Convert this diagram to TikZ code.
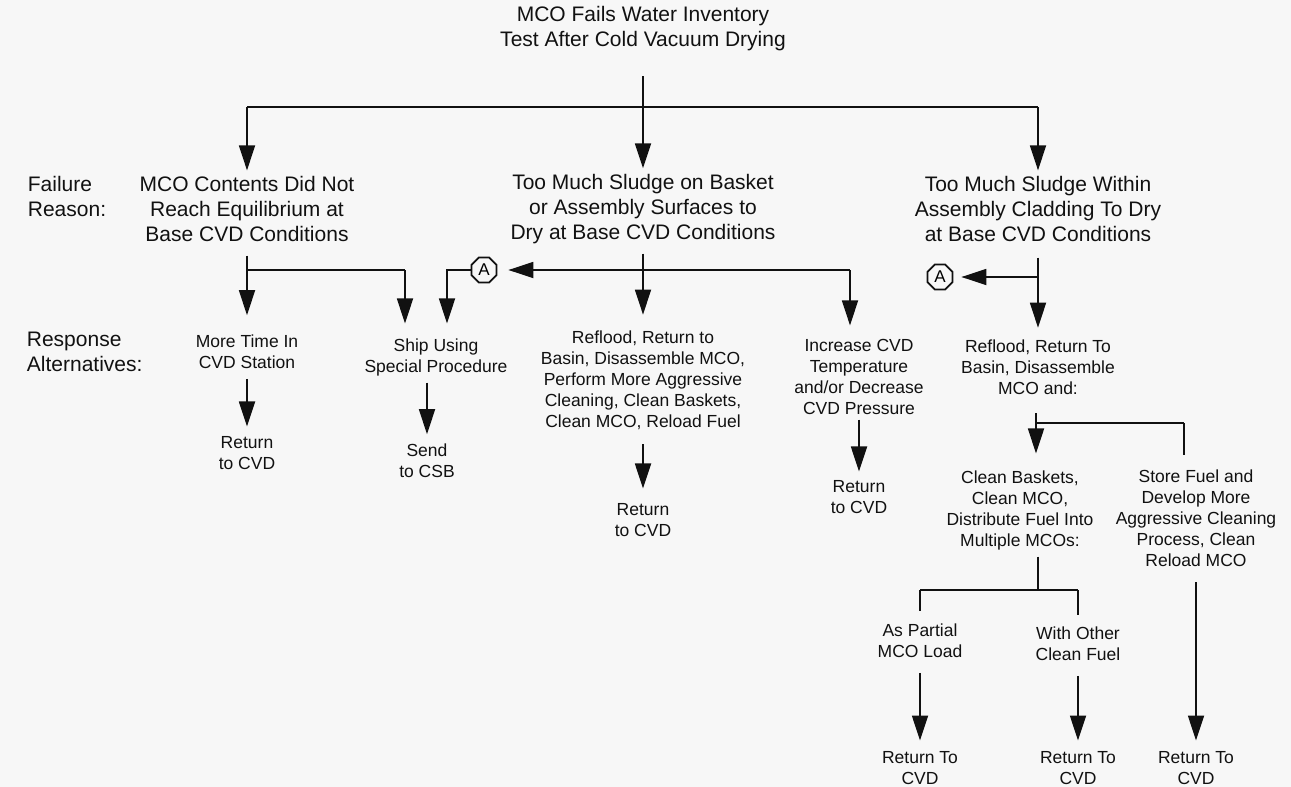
\documentclass[tikz,border=0pt]{standalone}
\usepackage{fontspec}
\setmainfont{Liberation Sans}
\usepackage{xcolor}
\usetikzlibrary{arrows.meta, shapes.geometric}
\definecolor{PPaper}{HTML}{F7F7F7}
\definecolor{PInk}{HTML}{111111}

\begin{document}
\begin{tikzpicture}[
  x=0.5pt, y=-0.5pt,
  line width=0.9pt,
  reason/.style={align=center, inner sep=0pt, text=PInk,
                 font=\fontsize{10.5}{12.5}\selectfont},
  side/.style={reason, align=left, anchor=west},
  resp/.style={align=center, inner sep=0pt, text=PInk,
               font=\fontsize{8.75}{10.5}\selectfont},
  octmark/.style={regular polygon, regular polygon sides=8, draw=PInk,
                  line width=0.9pt, minimum size=13.5pt, inner sep=0pt,
                  font=\fontsize{8.5}{9}\selectfont},
  flow/.style={draw=PInk, -{Triangle[length=12.5pt,width=8pt]}},
  link/.style={draw=PInk},
]
\fill[PPaper] (0,0) rectangle (1291,787);
\useasboundingbox (0,0) rectangle (1291,787);

% ── top event and failure reasons ────────────────────────────────────────
\node[reason] (title) at (643,29) {MCO Fails Water Inventory\\Test After Cold Vacuum Drying};

\node[side] (lblfail) at (27,196) {Failure\\Reason:};
\node[side] (lblresp) at (26,352) {Response\\Alternatives:};

\node[reason] (fail1) at (247,209)  {MCO Contents Did Not\\Reach Equilibrium at\\Base CVD Conditions};
\node[reason] (fail2) at (643,209)  {Too Much Sludge on Basket\\or Assembly Surfaces to\\Dry at Base CVD Conditions};
\node[reason] (fail3) at (1038,209) {Too Much Sludge Within\\Assembly Cladding To Dry\\at Base CVD Conditions};

\coordinate (bus0) at (643,107);
\coordinate (bus1) at (247,107);
\coordinate (bus3) at (1038,107);

\draw[link, shorten <=12pt] (title) -- (bus0);
\draw[link] (bus1) -- (bus3);
\draw[flow, shorten >=2.5pt] (bus1) -- (fail1);
\draw[flow, shorten >=2.5pt] (bus0) -- (fail2);
\draw[flow, shorten >=2.5pt] (bus3) -- (fail3);

% ── responses: contents not at equilibrium ───────────────────────────────
\node[resp] (time) at (247,352) {More Time In\\CVD Station};
\node[resp] (ret1) at (247,453) {Return\\to CVD};
\node[resp] (ship) at (436,357) {Ship Using\\Special Procedure};
\node[resp] (csb)  at (427,461) {Send\\to CSB};

\coordinate (jl)  at (247,270);
\coordinate (jlr) at (405,270);
\coordinate (sh2) at (447,300);
\node[octmark] (mkA1) at (484,270) {A};

\draw[flow, shorten <=6.5pt, shorten >=9.5pt] (fail1) -- (time);
\draw[link] (jl) -- (jlr);
\draw[flow, shorten >=7pt] (jlr) -- (jlr |- ship.north);
\draw[flow, shorten >=7pt] (mkA1) -| (sh2 |- ship.north);
\draw[flow, shorten <=4.5pt, shorten >=4.5pt] (time) -- (ret1);
\draw[flow, shorten <=3pt, shorten >=4.5pt] (csb |- ship.south) -- (csb);

% ── responses: sludge on surfaces ────────────────────────────────────────
\node[resp] (reflood1) at (643,380)
  {Reflood, Return to\\Basin, Disassemble MCO,\\Perform More Aggressive\\Cleaning, Clean Baskets,\\Clean MCO, Reload Fuel};
\node[resp] (ret2) at (643,520) {Return\\to CVD};
\node[resp] (incr) at (859,377)
  {Increase CVD\\Temperature\\and/or Decrease\\CVD Pressure};
\node[resp] (ret3) at (859,497) {Return\\to CVD};

\coordinate (jm)  at (643,270);
\coordinate (jmr) at (850,270);

\draw[flow, shorten <=4.5pt, shorten >=7.5pt] (fail2) -- (reflood1);
\draw[flow, shorten >=5.5pt] (jm) -- (mkA1);
\draw[link] (jm) -- (jmr);
\draw[flow, shorten >=6.5pt] (jmr) -- (jmr |- incr.north);
\draw[flow, shorten <=7pt, shorten >=7pt] (reflood1) -- (ret2);
\draw[flow, shorten <=2pt, shorten >=4pt] (incr) -- (ret3);

% ── responses: sludge within cladding ────────────────────────────────────
\node[resp] (reflood2) at (1038,367) {Reflood, Return To\\Basin, Disassemble\\MCO and:};
\node[resp] (distr) at (1020,510)
  {Clean Baskets,\\Clean MCO,\\Distribute Fuel Into\\Multiple MCOs:};
\node[resp] (store) at (1196,518)
  {Store Fuel and\\Develop More\\Aggressive Cleaning\\Process, Clean\\Reload MCO};
\node[resp] (partial) at (920,641)  {As Partial\\MCO Load};
\node[resp] (other)   at (1078,644) {With Other\\Clean Fuel};
\node[resp] (ret4) at (920,768)  {Return To\\CVD};
\node[resp] (ret5) at (1078,768) {Return To\\CVD};
\node[resp] (ret6) at (1196,768) {Return To\\CVD};

\coordinate (jr)  at (1038,277);
\node[octmark] (mkA2) at (940,277) {A};

\draw[flow, shorten <=7.5pt, shorten >=5.5pt] (fail3) -- (reflood2);
\draw[flow, shorten >=4pt] (jr) -- (mkA2);

\coordinate (jd)  at (1036,423);
\coordinate (jdr) at (1184,423);
\draw[link, shorten <=9pt] (reflood2.south -| jd) -- (jd);
\draw[link] (jd) -- (jdr);
\draw[flow, shorten >=8pt] (jd) -- (jd |- distr.north);
\draw[link, shorten >=7pt] (jdr) -- (jdr |- store.north);

\coordinate (jp)  at (1038,590);
\coordinate (jpl) at (920,590);
\coordinate (jpr) at (1078,590);
\draw[link, shorten <=3pt] (jp |- distr.south) -- (jp);
\draw[link] (jpl) -- (jpr);
\draw[link, shorten >=6pt] (jpl) -- (jpl |- partial.north);
\draw[link, shorten >=5.5pt] (jpr) -- (jpr |- other.north);

\draw[flow, shorten <=7pt, shorten >=5pt] (partial) -- (ret4);
\draw[flow, shorten <=7pt, shorten >=5pt] (other) -- (ret5);
\draw[flow, shorten <=7.5pt, shorten >=5pt] (store) -- (ret6);

\end{tikzpicture}
\end{document}
